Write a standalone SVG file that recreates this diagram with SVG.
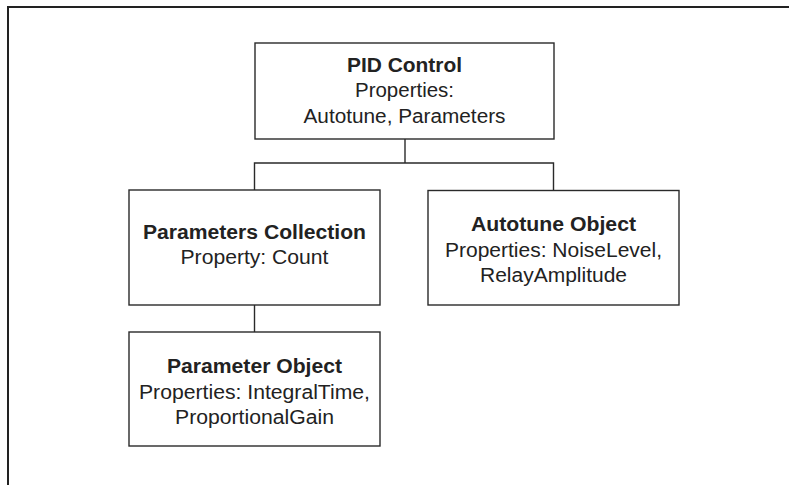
<svg xmlns="http://www.w3.org/2000/svg" width="789" height="485" viewBox="0 0 789 485">
<style>
.box{fill:#fff;stroke:#2a2a2a;stroke-width:1.4}
.ln{fill:none;stroke:#2a2a2a;stroke-width:1.4}
text{font-family:"Liberation Sans",Arial,sans-serif;font-size:20px;fill:#222;text-anchor:middle}
.b{font-weight:bold}
</style>
<rect width="789" height="485" fill="#fff"/>
<path d="M8,485 V7 H789" fill="none" stroke="#222" stroke-width="2"/>
<g id="connectors">
<path class="ln" d="M405,139 V163"/>
<path class="ln" d="M254.5,190 V163 H553.5 V190"/>
<path class="ln" d="M254.5,305 V332"/>
</g>
<g id="pid">
<rect class="box" x="255" y="43" width="299" height="96"/>
<text x="404.5" y="72" class="b" textLength="115" lengthAdjust="spacingAndGlyphs">PID Control</text>
<text x="404.5" y="97" textLength="99" lengthAdjust="spacingAndGlyphs">Properties:</text>
<text x="404.5" y="123" textLength="202" lengthAdjust="spacingAndGlyphs">Autotune, Parameters</text>
</g>
<g id="params">
<rect class="box" x="129" y="190" width="251" height="115"/>
<text x="254.5" y="239" class="b" textLength="223" lengthAdjust="spacingAndGlyphs">Parameters Collection</text>
<text x="254.5" y="264" textLength="148" lengthAdjust="spacingAndGlyphs">Property: Count</text>
</g>
<g id="autotune">
<rect class="box" x="428" y="190.5" width="251" height="114.5"/>
<text x="553.5" y="231" class="b" textLength="165" lengthAdjust="spacingAndGlyphs">Autotune Object</text>
<text x="553.5" y="257" textLength="217" lengthAdjust="spacingAndGlyphs">Properties: NoiseLevel,</text>
<text x="553.5" y="282" textLength="147" lengthAdjust="spacingAndGlyphs">RelayAmplitude</text>
</g>
<g id="param">
<rect class="box" x="129" y="332" width="251" height="114"/>
<text x="254.5" y="373" class="b" textLength="175" lengthAdjust="spacingAndGlyphs">Parameter Object</text>
<text x="254.5" y="399" textLength="231" lengthAdjust="spacingAndGlyphs">Properties: IntegralTime,</text>
<text x="254.5" y="424" textLength="159" lengthAdjust="spacingAndGlyphs">ProportionalGain</text>
</g>
</svg>
